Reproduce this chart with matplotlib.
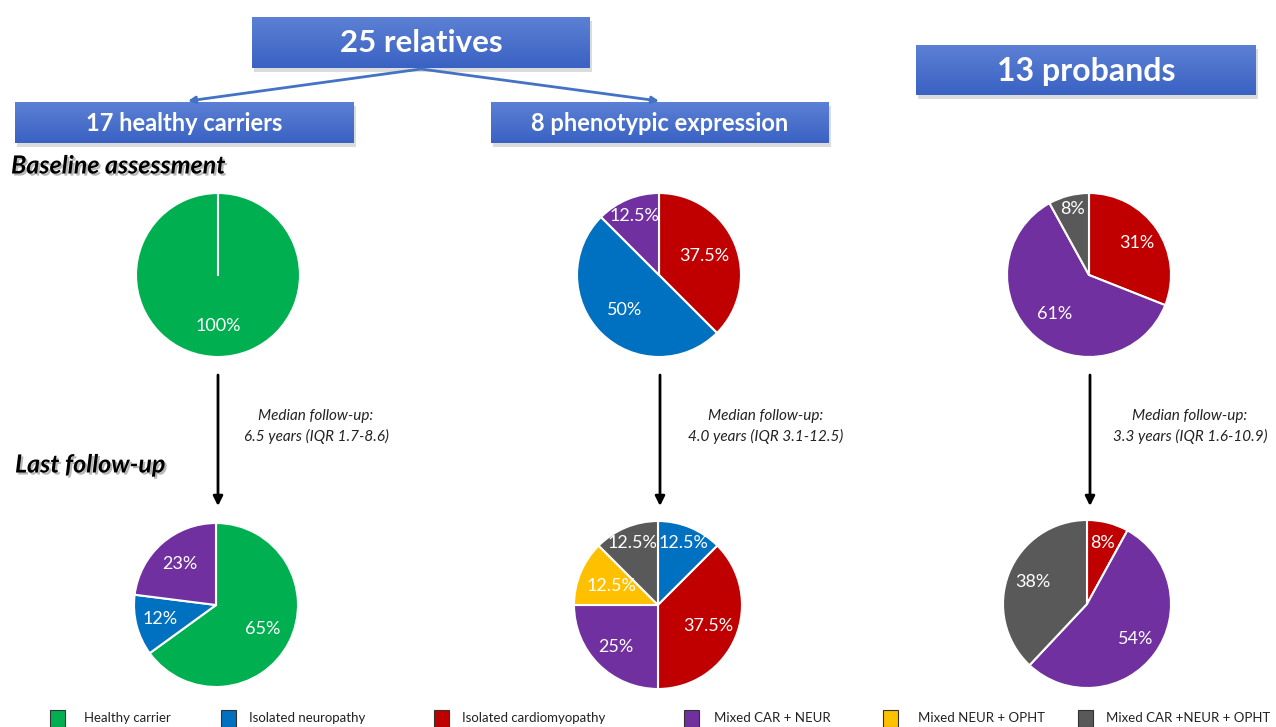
import numpy as np
import matplotlib
matplotlib.use("Agg")
from matplotlib import pyplot as plt
from matplotlib import patheffects as pe
from matplotlib.patches import Rectangle
from matplotlib.colors import LinearSegmentedColormap

W, H = 1276, 727

# categories and colours
categories = ["Healthy carrier", "Isolated neuropathy", "Isolated cardiomyopathy",
              "Mixed CAR + NEUR", "Mixed NEUR + OPHT", "Mixed CAR +NEUR + OPHT"]
cat_colors = ["#00B050", "#0070C0", "#C00000", "#7030A0", "#FFC000", "#595959"]

# baseline assessment
carriers_base_cats = ["Healthy carrier"]
carriers_base_vals = [100]
pheno_base_cats = ["Isolated cardiomyopathy", "Isolated neuropathy", "Mixed CAR + NEUR"]
pheno_base_vals = [37.5, 50, 12.5]
probands_base_cats = ["Isolated cardiomyopathy", "Mixed CAR + NEUR", "Mixed CAR +NEUR + OPHT"]
probands_base_vals = [31, 61, 8]

# last follow-up
carriers_last_cats = ["Healthy carrier", "Isolated neuropathy", "Mixed CAR + NEUR"]
carriers_last_vals = [65, 12, 23]
pheno_last_cats = ["Isolated neuropathy", "Isolated cardiomyopathy", "Mixed CAR + NEUR",
                   "Mixed NEUR + OPHT", "Mixed CAR +NEUR + OPHT"]
pheno_last_vals = [12.5, 37.5, 25, 12.5, 12.5]
probands_last_cats = ["Isolated cardiomyopathy", "Mixed CAR + NEUR", "Mixed CAR +NEUR + OPHT"]
probands_last_vals = [8, 54, 38]

box_titles = ["25 relatives", "17 healthy carriers", "8 phenotypic expression", "13 probands"]
followup_texts = [("Median follow-up:", "6.5 years (IQR 1.7-8.6)"),
                  ("Median follow-up:", "4.0 years (IQR 3.1-12.5)"),
                  ("Median follow-up:", "3.3 years (IQR 1.6-10.9)")]

color_of = dict(zip(categories, cat_colors))
FONT = ["Lato", "DejaVu Sans"]


def Y(y):
    # image rows run downward, axes y runs upward
    return H - y


fig = plt.figure(figsize=(W / 100, H / 100), dpi=100)
ax = fig.add_axes([0, 0, 1, 1])

blue_grad = LinearSegmentedColormap.from_list("bg", ["#3a62c3", "#5c80d4"])


def title_box(x0, y0, x1, y1, text, size):
    # soft shadow, then gradient fill, then the label
    ax.add_patch(Rectangle((x0 + 2, Y(y1) - 4), x1 - x0, y1 - y0,
                           facecolor="#8a8a8a", alpha=0.3, edgecolor="none", zorder=1))
    grad = np.linspace(0, 1, 64).reshape(-1, 1)
    ax.imshow(grad, cmap=blue_grad, aspect="auto", origin="lower",
              extent=(x0, x1, Y(y1), Y(y0)), zorder=2)
    ax.text((x0 + x1) / 2, Y((y0 + y1) / 2) - 1, text, color="white", fontsize=size,
            fontweight="bold", family=FONT, ha="center", va="center", zorder=3)


title_box(252, 17, 590, 68, box_titles[0], 22.5)
title_box(15, 102, 354, 143, box_titles[1], 17)
title_box(491, 102, 829, 143, box_titles[2], 17)
title_box(916, 45, 1256, 95, box_titles[3], 23)

# blue split arrows
for tx in (188, 659):
    ax.annotate("", xy=(tx, Y(101)), xytext=(421, Y(69)),
                arrowprops=dict(arrowstyle="-|>", color="#4472C4", lw=2, mutation_scale=10,
                                shrinkA=0, shrinkB=0))

shadow = [pe.withSimplePatchShadow(offset=(1.5, -1.5), shadow_rgbFace="#888888", alpha=0.6)]
ax.text(11, Y(166), "Baseline assessment", fontsize=18, fontweight="bold", style="italic",
        family=FONT, va="center", ha="left", path_effects=shadow)
ax.text(15, Y(465), "Last follow-up", fontsize=18, fontweight="bold", style="italic",
        family=FONT, va="center", ha="left", path_effects=shadow)


def draw_pie(cx, cy, r, cats, vals, dists):
    wedges, _ = ax.pie(vals, colors=[color_of[c] for c in cats], startangle=90,
                       counterclock=False, center=(cx, Y(cy)), radius=r,
                       wedgeprops=dict(edgecolor="white", linewidth=1.5))
    for w, v, d in zip(wedges, vals, dists):
        mid = np.deg2rad((w.theta1 + w.theta2) / 2)
        ax.text(cx + d * r * np.cos(mid), Y(cy) + d * r * np.sin(mid), f"{v:g}%",
                color="white", fontsize=13, family=FONT,
                ha="center", va="center", zorder=5)
    if len(vals) == 1:
        ax.plot([cx, cx], [Y(cy), Y(cy) + r], color="white", lw=1.5, zorder=4)


draw_pie(218, 275, 82, carriers_base_cats, carriers_base_vals, [0.62])
draw_pie(659, 275, 82, pheno_base_cats, pheno_base_vals, [0.6, 0.6, 0.78])
draw_pie(1089, 275, 82, probands_base_cats, probands_base_vals, [0.7, 0.64, 0.83])
draw_pie(216, 605, 82, carriers_last_cats, carriers_last_vals, [0.64, 0.7, 0.67])
draw_pie(658, 605, 84, pheno_last_cats, pheno_last_vals, [0.8, 0.65, 0.71, 0.6, 0.8])
draw_pie(1087, 604, 84, probands_last_cats, probands_last_vals, [0.75, 0.71, 0.7])

# follow-up arrows and notes
for x, tx, (l1, l2) in zip((218, 660, 1090), (316, 766, 1190), followup_texts):
    ax.annotate("", xy=(x, Y(506)), xytext=(x, Y(375)),
                arrowprops=dict(arrowstyle="-|>", color="black", lw=2, mutation_scale=14,
                                shrinkA=0, shrinkB=0))
    ax.text(tx, Y(416), l1, style="italic", fontsize=11, color="#222222",
            family=FONT, ha="center", va="center")
    ax.text(tx, Y(436), l2, style="italic", fontsize=11, color="#222222",
            family=FONT, ha="center", va="center")

# legend row
leg_sq_x = [50, 221, 434, 684, 883, 1078]
leg_txt_x = [84, 249, 462, 714, 918, 1106]
for sx, tx, lab, col in zip(leg_sq_x, leg_txt_x, categories, cat_colors):
    ax.add_patch(Rectangle((sx, Y(727)), 15, 17, facecolor=col, edgecolor="#333333", lw=0.8))
    ax.text(tx, Y(718), lab, fontsize=9.5, color="#222222",
            family=FONT, ha="left", va="center")

ax.set_xlim(0, W)
ax.set_ylim(0, H)
ax.set_aspect("auto")
ax.axis("off")

fig.savefig("out.png", dpi=100, facecolor="white")
